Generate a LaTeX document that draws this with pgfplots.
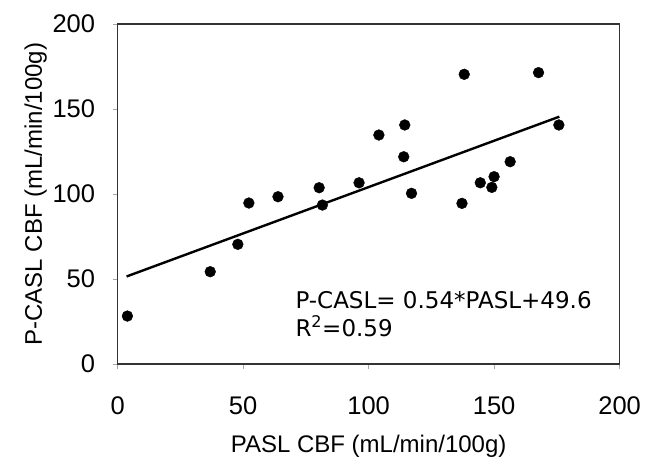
\documentclass[border=0pt]{standalone}
\usepackage{fontspec}
\setmainfont{Liberation Sans}
\newfontfamily\dejavu{DejaVu Sans}
\usepackage{pgfplots}
\pgfplotsset{compat=1.18}
\begin{document}
\begin{tikzpicture}[x=1pt,y=1pt]
\useasboundingbox (-117.6,-97) rectangle (537.4,364);
\begin{axis}[
  at={(0,0)}, anchor=south west,
  scale only axis, width=502pt, height=340pt,
  xmin=0, xmax=200, ymin=0, ymax=200,
  xtick={0,50,100,150,200}, ytick={0,50,100,150,200},
  xtick pos=left, ytick pos=left,
  tick align=outside, major tick length=5pt,
  tick style={draw=black!35, line width=0.8pt},
  axis line style={draw=black!80, line width=1.5pt},
  /pgf/number format/assume math mode=true,
  ticklabel style={font=\fontsize{25.5}{25.5}\selectfont},
  xticklabel style={anchor=base, yshift=-45pt},
  yticklabel style={anchor=east, xshift=-14pt},
  xlabel={PASL CBF (mL/min/100g)},
  ylabel={P-CASL CBF (mL/min/100g)},
  label style={font=\fontsize{24}{24}\selectfont},
  xlabel style={at={(axis description cs:0.5,0)}, anchor=base, yshift=-88pt},
  ylabel style={at={(axis description cs:0,0.5)}, anchor=base, yshift=75.6pt},
  clip=false,
]
\addplot[only marks, mark=*, mark size=5.4pt, black] coordinates {
  (3.9,28.2) (36.9,54.3) (47.9,70.4) (52.3,94.7) (63.9,98.4)
  (80.3,103.7) (81.6,93.5) (96.2,106.6) (104.1,134.7) (114.4,140.6)
  (114.0,121.9) (117.1,100.4) (137.2,94.5) (138.1,170.4) (144.5,106.6)
  (149.1,103.9) (150.0,110.2) (156.4,119.0) (167.7,171.4) (175.8,140.6)
};
\addplot[black, line width=2.4pt] coordinates {(3.6,51.5) (176,145.5)};
\node[anchor=base west, align=left, font=\dejavu\fontsize{23}{28}\selectfont, inner sep=0pt] at (axis cs:70.8,15.9) {P-CASL= 0.54*PASL+49.6\\R\textsuperscript{2}=0.59};
\end{axis}
\end{tikzpicture}
\end{document}
